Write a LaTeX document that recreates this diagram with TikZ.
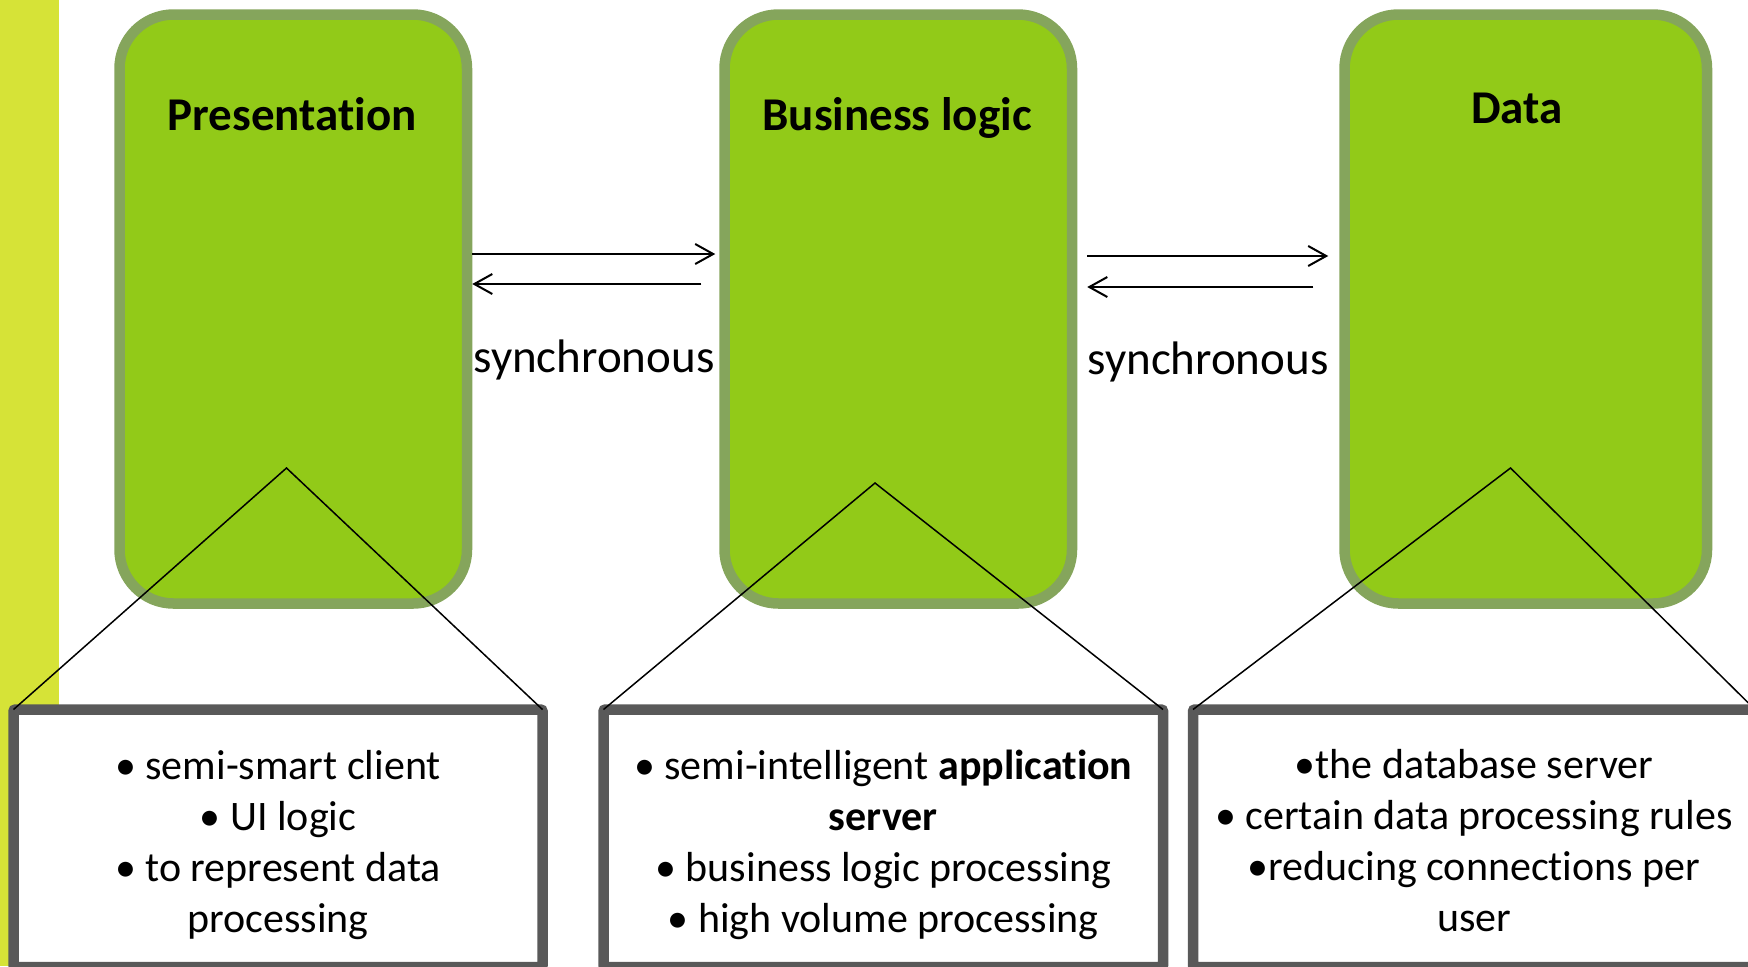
\documentclass[tikz,border=0pt]{standalone}
\usepackage{fontspec}
\setmainfont[Ligatures=NoCommon]{Carlito}
\usetikzlibrary{arrows.meta}
\definecolor{stripgreen}{HTML}{D6E337}
\definecolor{tierfill}{HTML}{92CA18}
\definecolor{tierline}{HTML}{85A55C}
\definecolor{boxline}{HTML}{595959}
\begin{document}
\begin{tikzpicture}[x=0.5pt,y=-0.5pt,
  tier/.style={draw=tierline,fill=tierfill,line width=5.25pt,rounded corners=27pt,minimum height=294.5pt,inner sep=0pt},
  infobox/.style={draw=boxline,fill=white,line width=5.25pt,outer sep=0pt,inner sep=0pt,rounded corners=1pt,minimum height=128.75pt},
  infotext/.style={font=\fontsize{21}{25.5}\selectfont,align=center,inner sep=0pt},
  title/.style={font=\fontsize{23.5}{28}\selectfont\bfseries,anchor=base},
  synclabel/.style={font=\fontsize{23.5}{28}\selectfont,anchor=base},
  sync/.style={line width=1pt,-{Straight Barb[length=9pt,width=10pt]}},
  callout/.style={line width=0.75pt}]
  \useasboundingbox (0,0) rectangle (1748,966);
  \clip (0,0) rectangle (1748,966);
  \fill[stripgreen] (0,0) rectangle (59,966); %left strip
  % the three tiers
  \node[tier,minimum width=173.75pt] (pres) at (293.25,309) {};
  \node[tier,minimum width=173.75pt] (logic) at (898.25,309) {};
  \node[tier,minimum width=181.25pt] (data) at (1525.75,309) {};
  \node[title] (presTitle) at (292,130) {Presentation};
  \node[title] (logicTitle) at (897,130) {Business logic};
  \node[title] (dataTitle) at (1517,123) {Data};
  % arrows between tiers
  \draw[sync,shorten >=2pt] (pres.east |- 0,254) -- (logic.west |- 0,254);
  \draw[sync,shorten <=9pt] (logic.west |- 0,284) -- (pres.east |- 0,284);
  \draw[sync,shorten <=5pt,shorten >=5.5pt] (logic.east |- 0,256) -- (data.west |- 0,256);
  \draw[sync,shorten <=13pt,shorten >=5pt] (data.west |- 0,287) -- (logic.east |- 0,287);
  \node[synclabel] (sync1) at (594,372) {synchronous};
  \node[synclabel] (sync2) at (1208,374) {synchronous};
  % detail boxes
  \node[infobox,minimum width=264.5pt] (presInfo) at (278,838.25) {};
  \node[infobox,minimum width=279.75pt] (logicInfo) at (883.25,838.25) {};
  \node[infobox,minimum width=281pt] (dataInfo) at (1474,838.25) {};
  \node[infotext] (presText) at (278,845) {• semi-smart client\\• UI logic\\• to represent data\\processing};
  \node[infotext] (logicText) at (883.25,845) {• semi-intelligent \textbf{application}\\\textbf{server}\\• business logic processing\\• high volume processing};
  \node[infotext] (dataText) at (1474,840.5) {•the database server\\• certain data processing rules\\•reducing connections per\\user};
  \coordinate (presTip) at (286.5,468);
  \coordinate (logicTip) at (875,483);
  \coordinate (dataTip) at (1510.5,468);
  \draw[callout] (presInfo.north west) -- (presTip) -- (presInfo.north east);
  \draw[callout] (logicInfo.north west) -- (logicTip) -- (logicInfo.north east);
  \draw[callout] (dataInfo.north west) -- (dataTip) -- (dataInfo.north east);
\end{tikzpicture}
\end{document}
